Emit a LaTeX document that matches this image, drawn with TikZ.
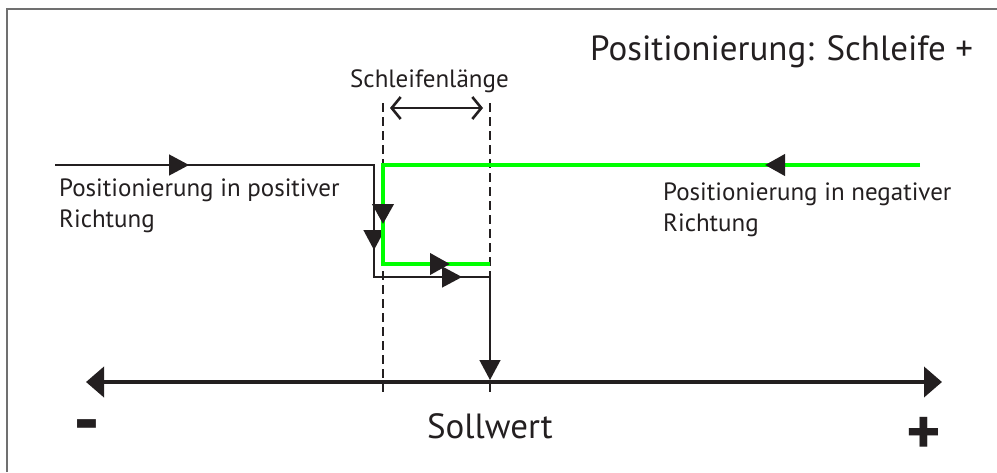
\documentclass[tikz,border=0pt]{standalone}
\usepackage{fontspec}
\setmainfont{PT Sans}
\usetikzlibrary{arrows.meta,decorations.markings}
\definecolor{ink}{HTML}{231F20}
\definecolor{loopgreen}{HTML}{00FF00}
\definecolor{framegray}{HTML}{707070}
\tikzset{
  tri/.tip={Triangle[length=20pt,width=21pt]},
  axtip/.tip={Triangle[length=18pt,width=30pt]},
  barb/.tip={Straight Barb[length=9pt,width=22pt,line width=2.6pt]},
  thinline/.style={draw=ink, line width=1.4pt},
  greenline/.style={draw=loopgreen, line width=4pt},
  guide/.style={draw=ink, line width=1.6pt, dash pattern=on 9pt off 5pt},
  axisline/.style={draw=ink, line width=4pt},
  lbl/.style={inner sep=0pt, font=\fontsize{25}{31}\selectfont, text=ink},
  biglbl/.style={inner sep=0pt, font=\fontsize{35}{40}\selectfont, text=ink},
  signlbl/.style={inner sep=0pt, font=\bfseries\fontsize{66}{66}\selectfont, text=ink}
}
\begin{document}
\begin{tikzpicture}[x=1pt,y=-1pt]
\useasboundingbox (0,0) rectangle (997,472);
% frame (top and left)
\draw[framegray, line width=2pt] (7,472) -- (7,9) -- (997,9);

% coordinates
\coordinate (bs) at (55,165);
\coordinate (bc1) at (374,165);
\coordinate (bc2) at (374,277);
\coordinate (bc3) at (490,277);
\coordinate (bend) at (490,380);
\coordinate (gs) at (920,165);
\coordinate (gc1) at (383,165);
\coordinate (gc2) at (383,264);
\coordinate (ge) at (490,264);
\coordinate (d1t) at (383,103);
\coordinate (d1b) at (383,393);
\coordinate (d2t) at (490,103);
\coordinate (d2b) at (490,393);
\coordinate (axL) at (86,382);
\coordinate (axR) at (942,382);
\coordinate (slL) at (390,108);
\coordinate (slR) at (483,108);

% dashed guides
\draw[guide] (d1t) -- (d1b);
\draw[guide] (d2t) -- (d2b);

% axis
\draw[axisline, {axtip}-{axtip}] (axL) -- (axR);

% black path (positive direction)
\draw[thinline, -{tri}, postaction={decorate, decoration={markings,
    mark=at position 134pt with {\arrow[ink]{tri}},
    mark=at position 404pt with {\arrow[ink]{tri}},
    mark=at position 519pt with {\arrow[ink]{tri}}}}]
  (bs) -- (bc1) -- (bc2) -- (bc3) -- (bend);

% green path (negative direction)
\draw[greenline, postaction={decorate, decoration={markings,
    mark=at position 155pt with {\arrow[ink]{tri}},
    mark=at position 596pt with {\arrow[ink]{tri}},
    mark=at position 703pt with {\arrow[ink]{tri}}}}]
  (gs) -- (gc1) -- (gc2) -- (ge);

% loop length arrow
\draw[draw=ink, line width=1.3pt, {barb}-{barb}] (slL) -- (slR);

% texts
\node[biglbl, anchor=base west] (title) at (590,60) {Positionierung: Schleife +};
\node[lbl, anchor=base west] (sl) at (350,87) {Schleifenlänge};
\node[lbl, anchor=north west, align=left] (pos) at (59,179) {Positionierung in positiver\\Richtung};
\node[lbl, anchor=north west, align=left] (neg) at (663,183) {Positionierung in negativer\\Richtung};
\node[biglbl, anchor=base] (soll) at (490,438) {Sollwert};
\node[signlbl, font=\bfseries\fontsize{75}{75}\selectfont] (minus) at (87,433) {-};
\node[signlbl] (plus) at (924,436) {+};
\end{tikzpicture}
\end{document}
